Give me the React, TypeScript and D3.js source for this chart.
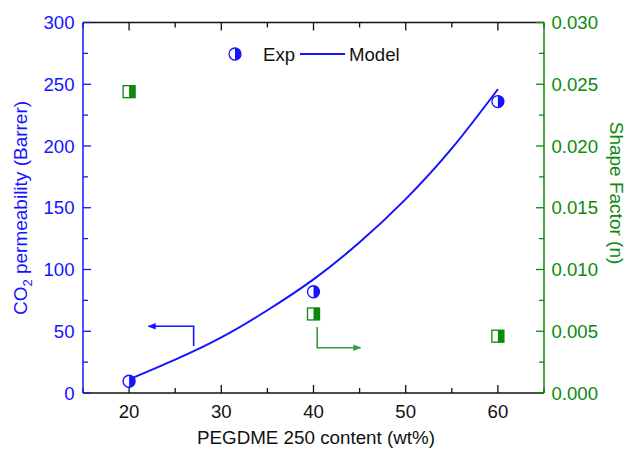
import React from "react";
import * as d3 from "d3";

// Measured CO2 permeability and fitted shape factor vs PEGDME 250 loading
const contents = [20, 40, 60];
const permeability = [9.5, 82, 236];
const shapeFactor = [0.0244, 0.0064, 0.0046];

// Model prediction of permeability
const modelContent = [20, 25, 30, 35, 40, 45, 50, 55, 60];
const modelPermeability = [11, 27, 45, 67, 92, 122, 157, 198, 246];

const xTicks = [20, 30, 40, 50, 60];
const yLeftTicks = [0, 50, 100, 150, 200, 250, 300];
const yRightTicks = [0, 0.005, 0.01, 0.015, 0.02, 0.025, 0.03];

const W = 626;
const H = 449;
const M = { left: 83, right: 544, top: 22.5, bottom: 393 };

const BLUE = "#1414ff";
const GREEN = "#0a8a0a";
const FONT = "Liberation Sans, Arial, sans-serif";
const FS = 18.6;

export default function App() {
  const x = d3.scaleLinear().domain([15, 65]).range([M.left, M.right]);
  const yL = d3.scaleLinear().domain([0, 300]).range([M.bottom, M.top]);
  const yR = d3.scaleLinear().domain([0, 0.03]).range([M.bottom, M.top]);

  const modelPts: [number, number][] = modelContent.map((c, i) => [c, modelPermeability[i]]);
  const modelLine = d3
    .line<[number, number]>()
    .x((d) => x(d[0]))
    .y((d) => yL(d[1]))
    .curve(d3.curveNatural)(modelPts);

  const xMinor = d3.range(15, 66, 5).filter((v) => !xTicks.includes(v));
  const yLMinor = d3.range(25, 300, 50);
  const yRMinor = d3.range(0.0025, 0.03, 0.005);

  const r = 6;
  const halfCircle = (cx: number, cy: number, key: string | number) => (
    <g key={key} transform={`translate(${cx},${cy})`}>
      <circle r={r} fill="#fff" stroke={BLUE} strokeWidth={1.3} />
      <path d={`M0,${-r} A${r},${r} 0 0 1 0,${r} Z`} fill={BLUE} />
    </g>
  );
  const s = 6;
  const halfSquare = (cx: number, cy: number, key: string | number) => (
    <g key={key} transform={`translate(${cx},${cy})`}>
      <rect x={-s} y={-s} width={2 * s} height={2 * s} fill="#fff" stroke={GREEN} strokeWidth={1.3} />
      <rect x={0} y={-s} width={s} height={2 * s} fill={GREEN} />
    </g>
  );

  // annotation arrows, placed in data coordinates
  const bArrow = { x0: 27, yTop: 54, yBot: 38, tip: 22.1 };
  const gArrow = { x0: 40.4, yTop: 0.00535, yBot: 0.00367, tip: 45.1 };

  return (
    <svg
      width={W}
      height={H}
      style={{ position: "absolute", left: 0, top: 0, background: "#fff" }}
      fontFamily={FONT}
    >
      <defs>
        <marker id="arrB" viewBox="0 0 10 10" refX="9" refY="5" markerWidth="8" markerHeight="8" orient="auto" markerUnits="userSpaceOnUse">
          <path d="M0,1 L10,5 L0,9 Z" fill={BLUE} />
        </marker>
        <marker id="arrG" viewBox="0 0 10 10" refX="9" refY="5" markerWidth="8" markerHeight="8" orient="auto" markerUnits="userSpaceOnUse">
          <path d="M0,1 L10,5 L0,9 Z" fill="#3a9a3a" />
        </marker>
      </defs>

      {/* frame: bottom and top axes */}
      <line x1={M.left} x2={M.right} y1={M.bottom} y2={M.bottom} stroke="#111" strokeWidth={1.5} />
      <line x1={M.left} x2={M.right} y1={M.top} y2={M.top} stroke="#111" strokeWidth={1.5} />
      {xTicks.map((t) => (
        <g key={"xt" + t}>
          <line x1={x(t)} x2={x(t)} y1={M.bottom} y2={M.bottom - 8} stroke="#111" strokeWidth={1.3} />
          <line x1={x(t)} x2={x(t)} y1={M.top} y2={M.top + 8} stroke="#111" strokeWidth={1.3} />
          <text x={x(t)} y={417.5} textAnchor="middle" fontSize={FS} fill="#111">
            {t}
          </text>
        </g>
      ))}
      {xMinor.map((t) => (
        <g key={"xm" + t}>
          <line x1={x(t)} x2={x(t)} y1={M.bottom} y2={M.bottom - 5} stroke="#111" strokeWidth={1.3} />
          <line x1={x(t)} x2={x(t)} y1={M.top} y2={M.top + 5} stroke="#111" strokeWidth={1.3} />
        </g>
      ))}
      <text x={316} y={444} textAnchor="middle" fontSize={18.8} fill="#111">
        PEGDME 250 content (wt%)
      </text>

      {/* left axis */}
      <line x1={M.left} x2={M.left} y1={M.bottom} y2={M.top} stroke={BLUE} strokeWidth={1.5} />
      {yLeftTicks.map((t) => (
        <g key={"yl" + t}>
          <line x1={M.left} x2={M.left + 8} y1={yL(t)} y2={yL(t)} stroke={BLUE} strokeWidth={1.3} />
          <text x={74.5} y={yL(t) + 6.7} textAnchor="end" fontSize={FS} fill={BLUE}>
            {t}
          </text>
        </g>
      ))}
      {yLMinor.map((t) => (
        <line key={"ylm" + t} x1={M.left} x2={M.left + 5} y1={yL(t)} y2={yL(t)} stroke={BLUE} strokeWidth={1.3} />
      ))}
      <text transform={`translate(27,208) rotate(-90)`} textAnchor="middle" fontSize={19} fill={BLUE}>
        CO<tspan fontSize={13} dy={5}>2</tspan>
        <tspan dy={-5}> permeability (Barrer)</tspan>
      </text>

      {/* right axis */}
      <line x1={M.right} x2={M.right} y1={M.bottom} y2={M.top} stroke={GREEN} strokeWidth={1.5} />
      {yRightTicks.map((t) => (
        <g key={"yr" + t}>
          <line x1={M.right} x2={M.right - 8} y1={yR(t)} y2={yR(t)} stroke={GREEN} strokeWidth={1.3} />
          <text x={551.5} y={yR(t) + 6.7} textAnchor="start" fontSize={FS} fill={GREEN}>
            {d3.format(".3f")(t)}
          </text>
        </g>
      ))}
      {yRMinor.map((t) => (
        <line key={"yrm" + t} x1={M.right} x2={M.right - 5} y1={yR(t)} y2={yR(t)} stroke={GREEN} strokeWidth={1.3} />
      ))}
      <text transform={`translate(610,193) rotate(90)`} textAnchor="middle" fontSize={19} fill={GREEN}>
        Shape Factor (n)
      </text>

      {/* model curve */}
      <path d={modelLine ?? ""} fill="none" stroke={BLUE} strokeWidth={2} />

      {/* experimental points */}
      {contents.map((c, i) => halfCircle(x(c), yL(permeability[i]), "c" + i))}
      {contents.map((c, i) => halfSquare(x(c), yR(shapeFactor[i]), "s" + i))}

      {/* axis-pointer arrows */}
      <polyline
        points={`${x(bArrow.x0)},${yL(bArrow.yBot)} ${x(bArrow.x0)},${yL(bArrow.yTop)} ${x(bArrow.tip)},${yL(bArrow.yTop)}`}
        fill="none"
        stroke={BLUE}
        strokeWidth={1.6}
        markerEnd="url(#arrB)"
      />
      <polyline
        points={`${x(gArrow.x0)},${yR(gArrow.yTop)} ${x(gArrow.x0)},${yR(gArrow.yBot)} ${x(gArrow.tip)},${yR(gArrow.yBot)}`}
        fill="none"
        stroke="#3a9a3a"
        strokeWidth={1.6}
        markerEnd="url(#arrG)"
      />

      {/* legend */}
      {halfCircle(235, 54, "leg")}
      <text x={263} y={60.5} fontSize={FS} fill="#111">
        Exp
      </text>
      <line x1={300} x2={345} y1={54} y2={54} stroke={BLUE} strokeWidth={2} />
      <text x={349} y={60.5} fontSize={FS} fill="#111">
        Model
      </text>
    </svg>
  );
}
